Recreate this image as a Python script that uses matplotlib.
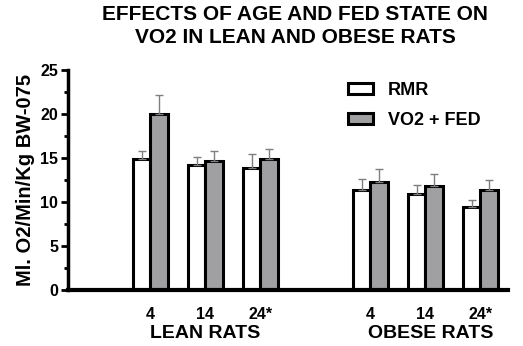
import numpy as np
import matplotlib.pyplot as plt
from matplotlib.patches import Patch

plt.rcParams['font.family'] = ['Liberation Sans', 'DejaVu Sans']
plt.rcParams['font.weight'] = 'bold'
plt.rcParams['axes.labelweight'] = 'bold'

# Data: mean VO2 and upper error for each age group
ages = ['4', '14', '24*']
groups = ['LEAN RATS', 'OBESE RATS']
rmr_lean = [14.9, 14.2, 13.9]
rmr_lean_err = [0.9, 0.9, 1.6]
fed_lean = [20.0, 14.7, 14.9]
fed_lean_err = [2.1, 1.05, 1.1]
rmr_obese = [11.4, 10.9, 9.4]
rmr_obese_err = [1.2, 1.0, 0.8]
fed_obese = [12.3, 11.85, 11.4]
fed_obese_err = [1.4, 1.35, 1.1]

lean_pos = np.array([1.5, 2.5, 3.5])
obese_pos = np.array([5.5, 6.5, 7.5])
width = 0.32

fig = plt.figure(figsize=(5.23, 3.46), dpi=100)
ax = fig.add_axes([0.13, 0.162, 0.841, 0.636])

err_kw = dict(ecolor='#7f7f7f', elinewidth=1.0, capsize=3, capthick=1.0)
for pos, rmr, rmr_e, fed, fed_e in [(lean_pos, rmr_lean, rmr_lean_err, fed_lean, fed_lean_err),
                                    (obese_pos, rmr_obese, rmr_obese_err, fed_obese, fed_obese_err)]:
    ax.bar(pos - width / 2, rmr, width, color='white', edgecolor='black', linewidth=2.2,
           yerr=[np.zeros(3), rmr_e], error_kw=err_kw, zorder=2)
    ax.bar(pos + width / 2, fed, width, color='#a0a0a3', edgecolor='black', linewidth=2.2,
           yerr=[np.zeros(3), fed_e], error_kw=err_kw, zorder=2)

ax.set_xlim(0, 8.0)
ax.set_ylim(0, 25)
ax.set_yticks([0, 5, 10, 15, 20, 25])
ax.set_yticks(np.arange(2.5, 25, 5), minor=True)
ax.tick_params(axis='y', which='major', length=5, width=2, labelsize=11.5, pad=2)
ax.tick_params(axis='y', which='minor', length=3, width=2)
for lbl in ax.get_yticklabels():
    lbl.set_fontweight('bold')

ax.set_xticks(np.concatenate([lean_pos, obese_pos]))
ax.set_xticklabels(ages + ages, fontsize=11.5, fontweight='bold')
ax.tick_params(axis='x', length=0, pad=12)

for s in ['top', 'right']:
    ax.spines[s].set_visible(False)
ax.spines['left'].set_linewidth(2.5)
ax.spines['bottom'].set_linewidth(3)

ax.set_ylabel('Ml. O2/Min/Kg BW-075', fontsize=14.5, fontweight='bold', labelpad=4)

for name, pos in zip(groups, [lean_pos, obese_pos]):
    ax.text(pos.mean() + (0.1 if name.startswith('O') else 0), -4.9, name, ha='center', va='center',
            fontsize=14, fontweight='bold', transform=ax.transData, clip_on=False)

handles = [Patch(facecolor='white', edgecolor='black', linewidth=2.2, label='RMR'),
           Patch(facecolor='#a0a0a3', edgecolor='black', linewidth=2.2, label='VO2 + FED')]
ax.legend(handles=handles, loc='upper left', bbox_to_anchor=(0.6, 1.02), frameon=False,
          prop={'size': 13, 'weight': 'bold'}, handlelength=1.4, handleheight=0.55,
          labelspacing=0.75, handletextpad=0.8)

fig.text(0.564, 0.985, 'EFFECTS OF AGE AND FED STATE ON\nVO2 IN LEAN AND OBESE RATS',
         ha='center', va='top', fontsize=15, fontweight='bold', linespacing=1.25)

fig.savefig('out.png', dpi=100)
